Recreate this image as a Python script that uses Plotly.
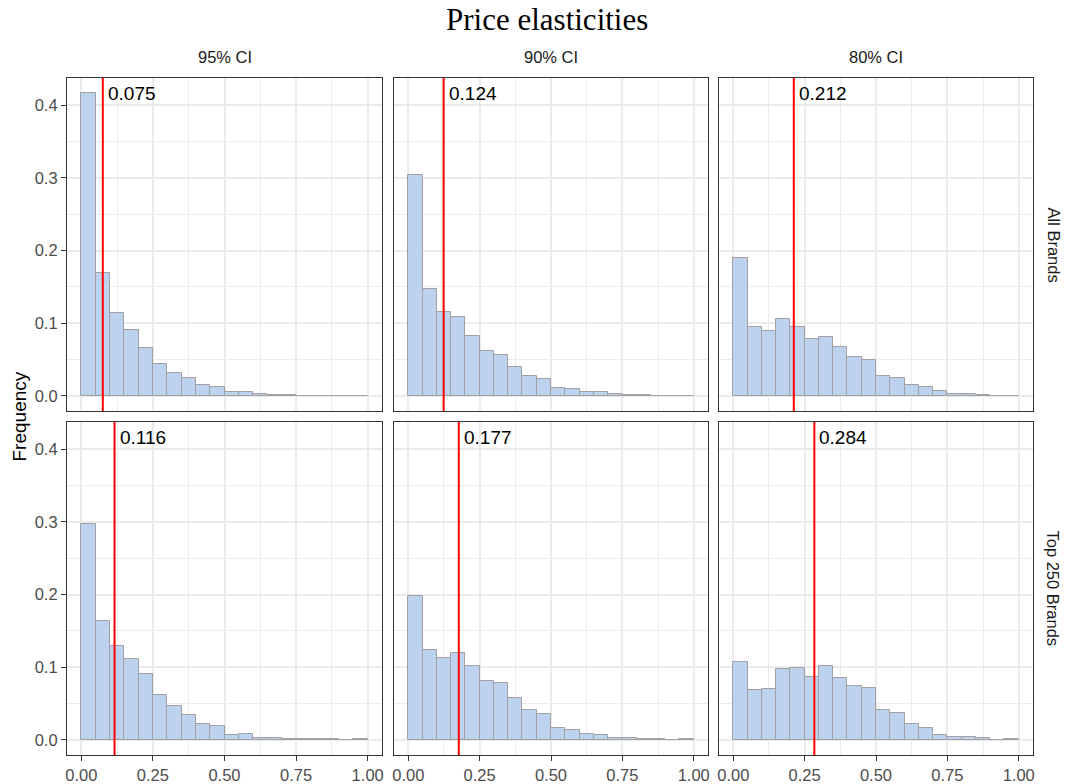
import plotly.graph_objects as go

W, H = 1066, 784

# ---- data ----
bin_edges = [round(i * 0.05, 2) for i in range(21)]
col_labels = ["95% CI", "90% CI", "80% CI"]
row_labels = ["All Brands", "Top 250 Brands"]

all_95 = [0.4165, 0.1688, 0.1138, 0.0913, 0.0656, 0.0436, 0.0321, 0.0243, 0.0147, 0.0128,
          0.0050, 0.0050, 0.0023, 0.0018, 0.0010, 0.0005, 0.0005, 0.0005, 0.0002, 0.0005]
all_90 = [0.3040, 0.1470, 0.1156, 0.1083, 0.0821, 0.0619, 0.0564, 0.0404, 0.0271, 0.0234,
          0.0115, 0.0096, 0.0050, 0.0050, 0.0023, 0.0014, 0.0010, 0.0005, 0.0005, 0.0005]
all_80 = [0.1900, 0.0954, 0.0899, 0.1055, 0.0954, 0.0784, 0.0807, 0.0670, 0.0541, 0.0500,
          0.0280, 0.0243, 0.0147, 0.0119, 0.0064, 0.0032, 0.0023, 0.0018, 0.0005, 0.0005]
top_95 = [0.2970, 0.1638, 0.1294, 0.1106, 0.0904, 0.0615, 0.0463, 0.0339, 0.0216, 0.0188,
          0.0064, 0.0078, 0.0028, 0.0028, 0.0018, 0.0018, 0.0009, 0.0009, 0.0000, 0.0009]
top_90 = [0.1980, 0.1234, 0.1124, 0.1202, 0.1014, 0.0807, 0.0789, 0.0573, 0.0408, 0.0353,
          0.0160, 0.0138, 0.0078, 0.0064, 0.0028, 0.0028, 0.0018, 0.0014, 0.0000, 0.0014]
top_80 = [0.1069, 0.0683, 0.0706, 0.0982, 0.0991, 0.0862, 0.1018, 0.0858, 0.0739, 0.0711,
          0.0417, 0.0372, 0.0216, 0.0170, 0.0069, 0.0037, 0.0037, 0.0023, 0.0000, 0.0009]

values = [[all_95, all_90, all_80], [top_95, top_90, top_80]]
medians = [[0.075, 0.124, 0.212], [0.116, 0.177, 0.284]]

x_ticks = [0.0, 0.25, 0.5, 0.75, 1.0]
y_ticks = [0.0, 0.1, 0.2, 0.3, 0.4]

# ---- layout geometry (pixels) ----
col_px = [(67, 382), (394, 708), (719, 1033)]
row_px = [(78, 411), (422, 755)]

fig = go.Figure()
centers = [(bin_edges[i] + bin_edges[i + 1]) / 2 for i in range(20)]
widths = [bin_edges[i + 1] - bin_edges[i] for i in range(20)]

layout = dict(
    width=W, height=H, margin=dict(l=0, r=0, t=0, b=0),
    paper_bgcolor="white", plot_bgcolor="white", showlegend=False,
    font=dict(family="Liberation Sans, Arial, sans-serif", color="#4D4D4D"),
    bargap=0,
)
annotations = []
shapes = []

for r in range(2):
    for c in range(3):
        k = r * 3 + c + 1
        xa = "x" if k == 1 else f"x{k}"
        ya = "y" if k == 1 else f"y{k}"
        fig.add_trace(go.Bar(
            x=centers, y=values[r][c], width=widths,
            marker=dict(color="#BCD2EE", line=dict(color="#A0A0A0", width=1)),
            xaxis=xa, yaxis=ya, hoverinfo="x+y",
        ))
        x0, x1 = col_px[c]
        y0, y1 = row_px[r]
        bottom = (r == 1)
        left = (c == 0)
        layout[f"xaxis{'' if k == 1 else k}"] = dict(
            domain=[x0 / W, x1 / W], anchor=ya, range=[-0.05, 1.05],
            tickvals=x_ticks, tickformat=".2f",
            showticklabels=bottom, ticks="outside" if bottom else "",
            ticklen=5, tickwidth=1.2, tickcolor="#333333",
            tickfont=dict(size=16.5, color="#4D4D4D"),
            showgrid=True, gridcolor="#EBEBEB", gridwidth=1.8,
            minor=dict(dtick=0.125, tick0=0, showgrid=True, gridcolor="#EBEBEB", gridwidth=0.9),
            zeroline=False, showline=True, mirror=True, linecolor="#333333", linewidth=1.2,
            automargin=False, fixedrange=True,
        )
        layout[f"yaxis{'' if k == 1 else k}"] = dict(
            domain=[1 - y1 / H, 1 - y0 / H], anchor=xa, range=[-0.0208, 0.4373],
            tickvals=y_ticks, tickformat=".1f",
            showticklabels=left, ticks="outside" if left else "",
            ticklen=5, tickwidth=1.2, tickcolor="#333333",
            tickfont=dict(size=16.5, color="#4D4D4D"),
            showgrid=True, gridcolor="#EBEBEB", gridwidth=1.8,
            minor=dict(dtick=0.05, tick0=0, showgrid=True, gridcolor="#EBEBEB", gridwidth=0.9),
            zeroline=False, showline=True, mirror=True, linecolor="#333333", linewidth=1.2,
            automargin=False, fixedrange=True,
        )
        m = medians[r][c]
        shapes.append(dict(type="line", xref=xa, yref=f"{ya} domain", x0=m, x1=m, y0=0, y1=1,
                           line=dict(color="#FF0000", width=2)))
        annotations.append(dict(x=m, y=0.4165, xref=xa, yref=ya, text=f"{m:.3f}",
                                showarrow=False, xanchor="left", yanchor="middle", xshift=3,
                                font=dict(size=19, color="black")))

# strip labels (columns)
for c in range(3):
    x0, x1 = col_px[c]
    annotations.append(dict(x=(x0 + x1) / 2 / W, y=1 - 57 / H, xref="paper", yref="paper",
                            text=col_labels[c], showarrow=False, xanchor="center", yanchor="middle",
                            font=dict(size=16.5, color="#1A1A1A")))
# strip labels (rows)
for r in range(2):
    y0, y1 = row_px[r]
    annotations.append(dict(x=1053 / W, y=1 - (y0 + y1) / 2 / H, xref="paper", yref="paper",
                            text=row_labels[r], showarrow=False, textangle=90,
                            xanchor="center", yanchor="middle",
                            font=dict(size=16.5, color="#1A1A1A")))
# y axis title
annotations.append(dict(x=19 / W, y=1 - 416.5 / H, xref="paper", yref="paper", text="Frequency",
                        showarrow=False, textangle=-90, xanchor="center", yanchor="middle",
                        font=dict(size=19, color="black")))
# title
annotations.append(dict(x=546.5 / W, y=1 - 19 / H, xref="paper", yref="paper",
                        text="Price elasticities", showarrow=False, xanchor="center",
                        yanchor="middle",
                        font=dict(size=31, color="black", family="Liberation Serif, Times New Roman, serif")))

layout["annotations"] = annotations
layout["shapes"] = shapes
fig.update_layout(**layout)
fig.write_html("out.html")
